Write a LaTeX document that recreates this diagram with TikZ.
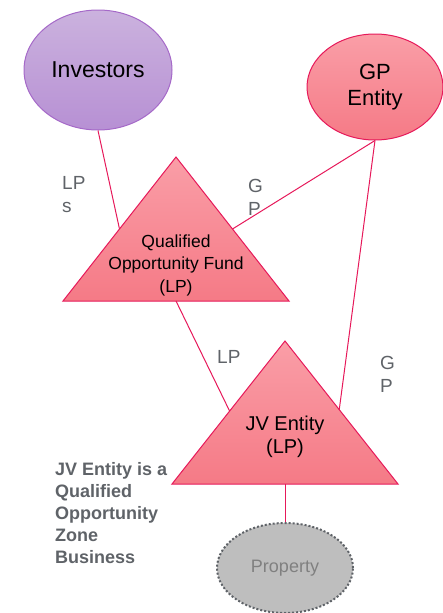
\documentclass[tikz,border=0pt]{standalone}
\usepackage{fontspec}
\setmainfont{Liberation Sans}
\usetikzlibrary{shapes.geometric, calc}

\definecolor{qred}{RGB}{230,25,90}
\definecolor{pinktop}{RGB}{250,158,167}
\definecolor{pinkbot}{RGB}{245,122,134}
\definecolor{lilactop}{RGB}{203,178,222}
\definecolor{lilacbot}{RGB}{183,144,212}
\definecolor{lilacline}{RGB}{165,105,200}
\definecolor{labelgray}{RGB}{95,99,104}
\definecolor{propfill}{RGB}{190,190,190}

\tikzset{
  link/.style={draw=qred, line width=1pt},
  pinkshape/.style={top color=pinktop, bottom color=pinkbot, draw=qred, line width=1pt},
  role/.style={text=labelgray, font=\fontsize{19}{23}\selectfont, align=left, inner sep=0pt, anchor=north west},
}

\begin{document}
\begin{tikzpicture}[x=1pt, y=-1pt]
\useasboundingbox (0,0) rectangle (442,613);

% owners
\node[ellipse, minimum width=148pt, minimum height=120pt, top color=lilactop, bottom color=lilacbot,
  draw=lilacline, line width=1pt, font=\fontsize{23}{27}\selectfont] (investors) at (98,70) {Investors};
\node[ellipse, minimum width=136pt, minimum height=106pt, pinkshape,
  font=\fontsize{22}{26}\selectfont, align=center] (gp) at (375,87) {GP\\Entity};

% fund and joint venture
\path[pinkshape] (176,157) coordinate (qof-top) -- (289,301) coordinate (qof-right)
  -- (63,301) coordinate (qof-left) -- cycle;
\node[font=\fontsize{17.5}{22.5}\selectfont, align=center] (qof) at (176,265) {Qualified\\Opportunity Fund\\(LP)};
\path[pinkshape] (285,341) coordinate (jv-top) -- (398,484) coordinate (jv-right)
  -- (172,484) coordinate (jv-left) -- cycle;
\node[font=\fontsize{20}{23}\selectfont, align=center] (jv) at (285,437) {JV Entity\\(LP)};

\node[ellipse, minimum width=136pt, minimum height=90pt, fill=propfill, draw=labelgray,
  line width=2pt, dash pattern=on 2pt off 2pt, text=gray, font=\fontsize{18}{22}\selectfont] (property) at (285,568) {Property};

% ownership links
\coordinate (qof-bottom) at ($(qof-left)!0.5!(qof-right)$);
\coordinate (jv-bottom) at ($(jv-left)!0.5!(jv-right)$);
\draw[link] (investors.south) -- ($(qof-top)!0.5!(qof-left)$);
\draw[link] (gp.south) -- ($(qof-top)!0.5!(qof-right)$);
\draw[link] (gp.south) -- ($(jv-top)!0.48!(jv-right)$);
\draw[link] (qof-bottom) -- ($(jv-top)!0.49!(jv-left)$);
\draw[link] (jv-bottom) -- (property.north);

% roles
\node[role] (lps) at (62,176) {LP\\s};
\node[role] (gp1) at (248,179) {G\\P};
\node[role] (lp2) at (217,350) {LP};
\node[role] (gp2) at (380,356) {G\\P};

\node[text=labelgray, font=\bfseries\fontsize{18}{22}\selectfont, align=left, inner sep=0pt, anchor=north west]
  (qozb) at (55,462) {JV Entity is a\\Qualified\\Opportunity\\Zone\\Business};
\end{tikzpicture}
\end{document}
